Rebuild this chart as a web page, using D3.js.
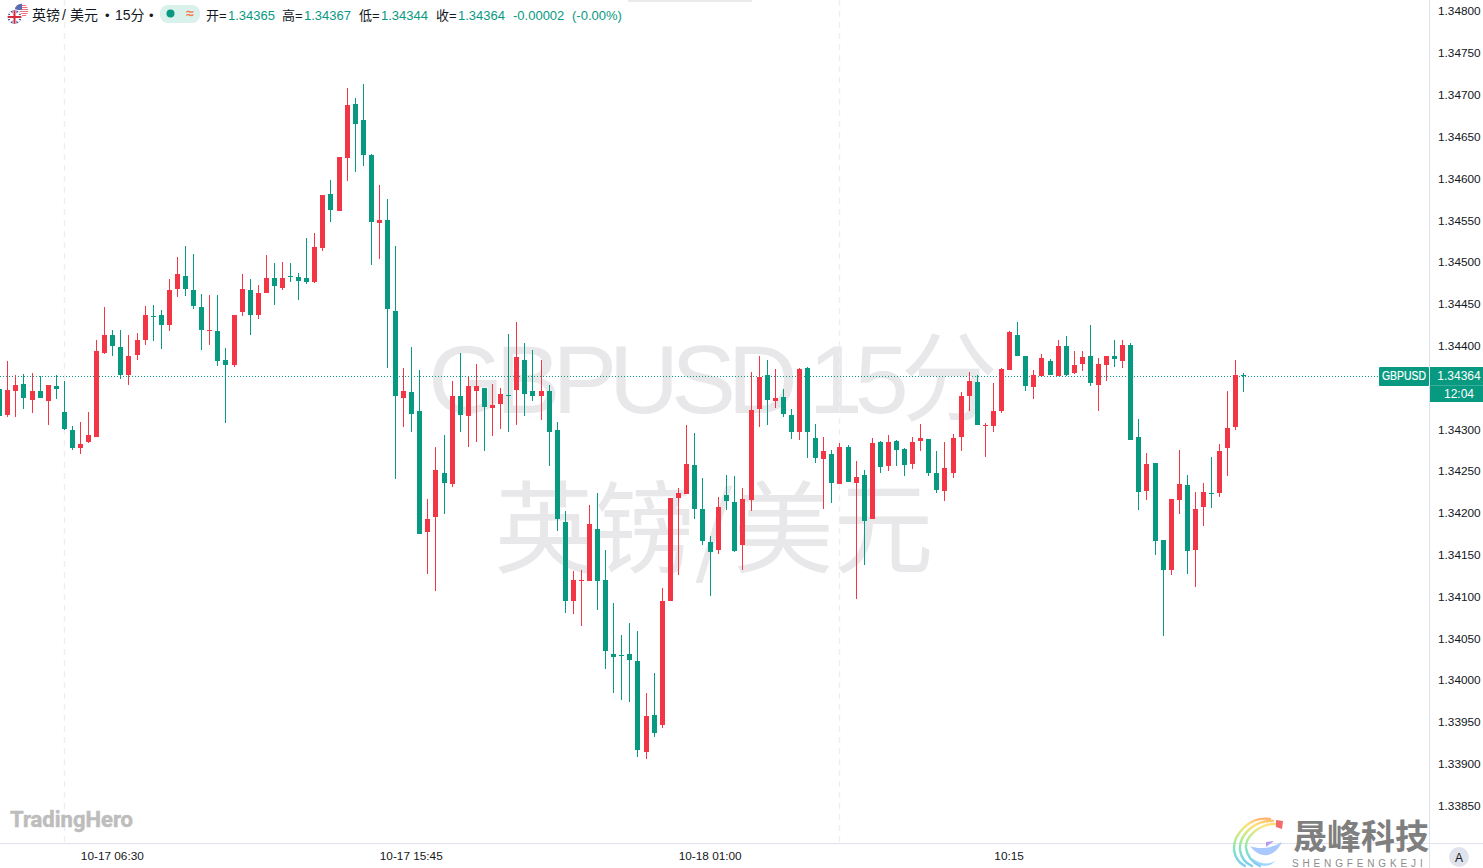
<!DOCTYPE html>
<html><head><meta charset="utf-8">
<script src="https://cdn.jsdelivr.net/npm/d3@7"></script>
<style>html,body{margin:0;padding:0;background:#fff;overflow:hidden}svg{display:block}
text{font-family:"Liberation Sans",Arial,"Noto Sans CJK SC",sans-serif}</style></head>
<body><svg id="c" width="1483" height="868"></svg>
<script>
const opens=[1.34348,1.34317,1.34346,1.34354,1.34335,1.34345,1.34334,1.34351,1.34321,1.34299,
1.34277,1.34285,1.34291,1.34391,1.34413,1.34398,1.34365,1.34389,1.34406,1.34435,
1.34437,1.34424,1.34467,1.34483,1.34466,1.34446,1.34417,1.34417,1.34383,1.34377,
1.34440,1.34466,1.34437,1.34463,1.34481,1.34469,1.34483,1.34482,1.34481,1.34476,
1.34516,1.34581,1.34561,1.34624,1.34689,1.34670,1.34628,1.34546,1.34550,1.34441,
1.34337,1.34344,1.34322,1.34177,1.34195,1.34248,1.34234,1.34340,1.34316,1.34346,
1.34349,1.34325,1.34330,1.34341,1.34347,1.34383,1.34345,1.34340,1.34346,1.34299,
1.34189,1.34095,1.34118,1.34118,1.34180,1.34119,1.34031,1.34030,1.34031,1.34023,
1.33914,1.33958,1.33946,1.34095,1.34218,1.34222,1.34257,1.34205,1.34165,1.34155,
1.34221,1.34213,1.34162,1.34215,1.34324,1.34365,1.34334,1.34338,1.34317,1.34296,
1.34373,1.34289,1.34264,1.34270,1.34234,1.34279,1.34235,1.34245,1.34192,1.34285,
1.34256,1.34286,1.34276,1.34258,1.34286,1.34288,1.34247,1.34226,1.34247,1.34291,
1.34340,1.34356,1.34304,1.34304,1.34322,1.34371,1.34413,1.34388,1.34350,1.34363,
1.34382,1.34363,1.34399,1.34367,1.34378,1.34387,1.34353,1.34377,1.34388,1.34381,
1.34401,1.34291,1.34226,1.34259,1.34167,1.34131,1.34215,1.34233,1.34155,1.34207,
1.34224,1.34224,1.34277,1.34303,1.34365];
const highs=[1.34365,1.34382,1.34365,1.34366,1.34367,1.34363,1.34353,1.34365,1.34357,1.34304,
1.34309,1.34321,1.34407,1.34446,1.34419,1.34418,1.34412,1.34415,1.34447,1.34449,
1.34442,1.34479,1.34506,1.34519,1.34510,1.34461,1.34460,1.34460,1.34397,1.34437,
1.34485,1.34479,1.34472,1.34508,1.34499,1.34500,1.34499,1.34487,1.34528,1.34534,
1.34580,1.34598,1.34626,1.34708,1.34696,1.34713,1.34629,1.34592,1.34575,1.34519,
1.34373,1.34398,1.34371,1.34217,1.34279,1.34293,1.34357,1.34391,1.34362,1.34378,
1.34349,1.34354,1.34349,1.34414,1.34428,1.34403,1.34395,1.34383,1.34353,1.34309,
1.34202,1.34130,1.34132,1.34209,1.34223,1.34156,1.34092,1.34054,1.34068,1.34059,
1.33984,1.34008,1.34110,1.34218,1.34229,1.34305,1.34295,1.34241,1.34172,1.34219,
1.34245,1.34244,1.34229,1.34368,1.34387,1.34383,1.34372,1.34348,1.34324,1.34373,
1.34374,1.34306,1.34291,1.34275,1.34283,1.34281,1.34262,1.34251,1.34289,1.34286,
1.34293,1.34287,1.34277,1.34291,1.34306,1.34288,1.34274,1.34285,1.34294,1.34344,
1.34368,1.34365,1.34307,1.34355,1.34373,1.34417,1.34428,1.34388,1.34371,1.34390,
1.34384,1.34406,1.34411,1.34394,1.34394,1.34425,1.34385,1.34388,1.34407,1.34406,
1.34403,1.34312,1.34271,1.34259,1.34167,1.34217,1.34275,1.34245,1.34225,1.34235,
1.34267,1.34282,1.34346,1.34383,1.34367];
const lows=[1.34313,1.34315,1.34315,1.34324,1.34319,1.34337,1.34305,1.34336,1.34299,1.34275,
1.34270,1.34283,1.34291,1.34390,1.34387,1.34360,1.34353,1.34383,1.34400,1.34405,
1.34396,1.34417,1.34458,1.34459,1.34444,1.34395,1.34400,1.34376,1.34307,1.34374,
1.34435,1.34413,1.34432,1.34463,1.34449,1.34466,1.34476,1.34454,1.34474,1.34475,
1.34513,1.34548,1.34561,1.34597,1.34607,1.34615,1.34496,1.34503,1.34373,1.34240,
1.34303,1.34296,1.34174,1.34127,1.34106,1.34198,1.34231,1.34296,1.34279,1.34285,
1.34274,1.34292,1.34300,1.34296,1.34305,1.34316,1.34334,1.34311,1.34256,1.34178,
1.34080,1.34079,1.34064,1.34118,1.34084,1.34013,1.33984,1.33976,1.33974,1.33908,
1.33905,1.33932,1.33942,1.34095,1.34126,1.34222,1.34193,1.34161,1.34101,1.34151,
1.34203,1.34153,1.34131,1.34202,1.34303,1.34305,1.34325,1.34315,1.34288,1.34287,
1.34266,1.34259,1.34204,1.34212,1.34234,1.34237,1.34097,1.34138,1.34192,1.34247,
1.34250,1.34256,1.34244,1.34252,1.34274,1.34244,1.34223,1.34214,1.34241,1.34274,
1.34322,1.34305,1.34267,1.34296,1.34319,1.34371,1.34387,1.34346,1.34336,1.34363,
1.34365,1.34363,1.34363,1.34366,1.34370,1.34351,1.34322,1.34357,1.34374,1.34373,
1.34287,1.34203,1.34215,1.34150,1.34052,1.34125,1.34198,1.34127,1.34111,1.34184,
1.34206,1.34219,1.34244,1.34299,1.34344];
const closes=[1.34316,1.34347,1.34353,1.34337,1.34346,1.34337,1.34353,1.34348,1.34300,1.34277,
1.34282,1.34293,1.34393,1.34412,1.34399,1.34365,1.34388,1.34406,1.34436,1.34434,
1.34425,1.34466,1.34486,1.34467,1.34447,1.34418,1.34418,1.34382,1.34377,1.34437,
1.34467,1.34437,1.34463,1.34481,1.34471,1.34481,1.34482,1.34477,1.34476,1.34518,
1.34580,1.34562,1.34626,1.34687,1.34665,1.34628,1.34548,1.34550,1.34444,1.34340,
1.34346,1.34318,1.34175,1.34192,1.34251,1.34235,1.34340,1.34317,1.34352,1.34352,
1.34326,1.34329,1.34342,1.34340,1.34386,1.34342,1.34340,1.34346,1.34296,1.34192,
1.34094,1.34119,1.34119,1.34186,1.34118,1.34035,1.34028,1.34029,1.34024,1.33916,
1.33957,1.33936,1.34095,1.34218,1.34224,1.34258,1.34204,1.34166,1.34153,1.34207,
1.34214,1.34154,1.34216,1.34323,1.34362,1.34335,1.34337,1.34318,1.34296,1.34372,
1.34296,1.34265,1.34274,1.34235,1.34279,1.34237,1.34243,1.34190,1.34283,1.34255,
1.34285,1.34275,1.34257,1.34285,1.34289,1.34247,1.34227,1.34253,1.34289,1.34339,
1.34357,1.34305,1.34305,1.34322,1.34372,1.34416,1.34388,1.34352,1.34365,1.34385,
1.34365,1.34399,1.34365,1.34377,1.34386,1.34355,1.34378,1.34387,1.34384,1.34400,
1.34287,1.34225,1.34258,1.34166,1.34131,1.34216,1.34234,1.34154,1.34205,1.34225,
1.34222,1.34274,1.34301,1.34365,1.34364];
const priceTicks=[1.348,1.3475,1.347,1.3465,1.346,1.3455,1.345,1.3445,1.344,1.3435,1.343,1.3425,1.342,1.3415,1.341,1.3405,1.34,1.3395,1.339,1.3385];
const hiddenTick=1.3435;
const timeTickIdx=[14,51,88,125];
const timeTickLabels=["10-17 06:30","10-17 15:45","10-18 01:00","10:15"];
const gridIdx=[8,104];
const lastPrice=1.34364;
const quote=[["开","1.34365"],["高","1.34367"],["低","1.34344"],["收","1.34364"]];
const changeText="-0.00002";const changePct="(-0.00%)";

const UP="#f23645",DOWN="#089981",INK="#131722",AXIS="#e0e0ee",W=1483,H=868;
const svg=d3.select("#c");
const x=d3.scaleLinear().domain([1,154]).range([7.8,1243.9]);
const y=d3.scaleLinear().domain([1.3385,1.348]).range([805.4,11]);
const px=i=>Math.floor(x(i));

// watermarks
const wm=svg.append("g").attr("fill","#e8e8ea");
wm.append("text").attr("x",709).attr("y",413).attr("text-anchor","middle").style("font-size","97px").style("letter-spacing","-8px").text("GBPUSD 15分");
wm.append("text").attr("x",714).attr("y",565).attr("text-anchor","middle").style("font-size","100px").style("font-family","'Noto Sans CJK SC'").style("font-weight","400").text("英镑/美元");

// grid
svg.append("g").selectAll("line").data(gridIdx).join("line")
 .attr("x1",d=>px(d)+.5).attr("x2",d=>px(d)+.5).attr("y1",0).attr("y2",843)
 .attr("stroke","#eeeef2").attr("stroke-width",1.4).attr("stroke-dasharray","6 5");

// last-price line
svg.append("line").attr("x1",0).attr("x2",1379).attr("y1",Math.round(y(lastPrice))+.5).attr("y2",Math.round(y(lastPrice))+.5)
 .attr("stroke",DOWN).attr("stroke-width",1).attr("stroke-dasharray","1 2");

// candles
const idx=d3.range(opens.length);
const col=i=>closes[i]>=opens[i]?UP:DOWN;
const g=svg.append("g").attr("shape-rendering","crispEdges");
g.selectAll(".w").data(idx).join("rect").attr("class","w")
 .attr("x",px).attr("width",1).attr("y",i=>Math.round(y(highs[i])))
 .attr("height",i=>Math.max(1,Math.round(y(lows[i]))-Math.round(y(highs[i])))).attr("fill",col);
g.selectAll(".b").data(idx).join("rect").attr("class","b")
 .attr("x",i=>px(i)-2).attr("width",5)
 .attr("y",i=>Math.round(y(Math.max(opens[i],closes[i]))))
 .attr("height",i=>Math.max(1,Math.round(y(Math.min(opens[i],closes[i])))-Math.round(y(Math.max(opens[i],closes[i])))))
 .attr("fill",col);

// logos under axes
svg.append("text").attr("x",10).attr("y",827).attr("fill","#bdbdbd").attr("stroke","#bdbdbd").attr("stroke-width",.5).attr("stroke-linejoin","round").style("font-family","Roboto,sans-serif").style("font-size","22px").style("font-weight","700").text("TradingHero");

// axis lines
svg.append("line").attr("x1",0).attr("x2",W).attr("y1",843.5).attr("y2",843.5).attr("stroke",AXIS);
svg.append("line").attr("x1",1429.5).attr("x2",1429.5).attr("y1",0).attr("y2",H).attr("stroke",AXIS);

// right axis
const ya=svg.append("g").attr("transform","translate(1429,0.2)").call(d3.axisRight(y).tickValues(priceTicks.filter(d=>d!==hiddenTick)).tickFormat(d3.format(".5f")).tickSize(0).tickPadding(9));
ya.select(".domain").remove();
ya.selectAll("text").attr("fill",INK).style("font-size","11.8px").style("font-family","'Liberation Sans',Arial");
// bottom axis
const xa=svg.append("g").attr("transform","translate(-1,844)").call(d3.axisBottom(x).tickValues(timeTickIdx).tickFormat((d,i)=>timeTickLabels[i]).tickSize(0).tickPadding(8));
xa.select(".domain").remove();
xa.selectAll("text").attr("fill",INK).style("font-size","11.8px").style("font-family","'Liberation Sans',Arial");

// price tags
const ly=Math.round(y(lastPrice));
svg.append("rect").attr("x",1379).attr("y",ly-9).attr("width",50).attr("height",19).attr("rx",1).attr("fill",DOWN);
svg.append("rect").attr("x",1430).attr("y",ly-9).attr("width",53).attr("height",18).attr("fill",DOWN);
svg.append("rect").attr("x",1430).attr("y",ly+9).attr("width",53).attr("height",17).attr("fill",DOWN);
svg.append("line").attr("x1",1430).attr("x2",1483).attr("y1",ly+9.5).attr("y2",ly+9.5).attr("stroke","#3aad98");
const tag=(tx,ty,t)=>svg.append("text").attr("x",tx).attr("y",ty).attr("fill","#fff").attr("text-anchor","middle").style("font-size","12px").text(t);
tag(1404,ly+4,"GBPUSD").attr("textLength",44).attr("lengthAdjust","spacingAndGlyphs").attr("stroke","#fff").attr("stroke-width",.2);
tag(1459,ly+4,d3.format(".5f")(lastPrice));tag(1459,ly+22,"12:04");

// header
const flag=svg.append("g");
const defs=svg.append("defs");
defs.append("clipPath").attr("id","us").append("circle").attr("cx",21.5).attr("cy",10.5).attr("r",6.8);
defs.append("clipPath").attr("id","uk").append("circle").attr("cx",14.5).attr("cy",17).attr("r",6.8);
const us=flag.append("g").attr("clip-path","url(#us)");
us.append("rect").attr("x",14).attr("y",3).attr("width",15).attr("height",15).attr("fill","#fff");
d3.range(0,8).forEach(k=>us.append("rect").attr("x",14).attr("y",3+k*2).attr("width",15).attr("height",1).attr("fill","#e8707f"));
us.append("rect").attr("x",14).attr("y",3).attr("width",8).attr("height",7).attr("fill","#5b6db0");
flag.append("circle").attr("cx",14.5).attr("cy",17).attr("r",7.8).attr("fill","#fff");
const uk=flag.append("g").attr("clip-path","url(#uk)");
uk.append("rect").attr("x",7).attr("y",10).attr("width",15).attr("height",14).attr("fill","#2a3f8f");
uk.append("path").attr("d","M7 10L22 24M22 10L7 24").attr("stroke","#fff").attr("stroke-width",2.6);
uk.append("path").attr("d","M14.5 10V24M7 17H22").attr("stroke","#fff").attr("stroke-width",4);
uk.append("path").attr("d","M14.5 10V24M7 17H22").attr("stroke","#d8283c").attr("stroke-width",2);
const hd=(tx,t,c,fs)=>svg.append("text").attr("x",tx).attr("y",19.5).attr("fill",c||INK).style("font-size",(fs||13)+"px").text(t);
hd(32,"英镑",INK,14);hd(62,"/",INK,14);hd(70,"美元",INK,14);hd(105,"•",INK,13);hd(115,"15分",INK,14);hd(149,"•",INK,13);
svg.append("rect").attr("x",160).attr("y",5).attr("width",40).attr("height",18).attr("rx",8).attr("fill","#d9f0eb");
svg.append("circle").attr("cx",170.5).attr("cy",13.5).attr("r",4).attr("fill",DOWN);
svg.append("text").attr("x",190).attr("y",18).attr("text-anchor","middle").attr("fill","#f7794a").style("font-size","14px").style("font-weight","700").text("≈");
[206,282,359,436].forEach((tx,i)=>{hd(tx,quote[i][0]+"=");hd(tx+22,quote[i][1],DOWN);});
hd(513,changeText,DOWN);hd(572,changePct,DOWN);

// top shadow artefact
svg.append("rect").attr("x",628).attr("y",0).attr("width",124).attr("height",2).attr("fill","#eaeaea");

// A button
svg.append("circle").attr("cx",1459).attr("cy",857).attr("r",10).attr("fill","#e0e3eb");
svg.append("text").attr("x",1459).attr("y",861.5).attr("text-anchor","middle").attr("fill",INK).style("font-size","12px").text("A");

// bottom-right brand
const lg=defs.append("linearGradient").attr("id","rb").attr("gradientUnits","userSpaceOnUse").attr("x1",0).attr("x2",0).attr("y1",818).attr("y2",868);
[[0,"#ffb070"],[.14,"#ffe27a"],[.4,"#b9ec8a"],[.65,"#7fe3c8"],[1,"#7cc8f8"]].forEach(s=>lg.append("stop").attr("offset",s[0]).attr("stop-color",s[1]));
const brand=svg.append("g").attr("fill","none").attr("stroke","url(#rb)").attr("stroke-width",2.4).attr("stroke-linecap","round");
["M1270 819C1250 816 1233 834 1234 850C1235 857 1239 863 1245 866",
 "M1273 821C1254 820 1239 835 1240 850C1241 857 1245 863 1252 866",
 "M1275 824C1259 824 1245 837 1246 848C1247 855 1252 862 1260 866"].forEach(d=>brand.append("path").attr("d",d));
svg.append("path").attr("d","M1282 842C1276 855 1262 862 1250 846C1260 850 1272 848 1282 842Z").attr("fill","#a9c9ff");
svg.append("path").attr("d","M1266 842L1274 841L1266 847Z").attr("fill","#b49cf0");
svg.append("path").attr("d","M1252 858C1262 866 1272 864 1276 860C1270 868 1258 868 1252 858Z").attr("fill","#9fd4ff");
svg.append("path").attr("d","M1276 820L1283 821L1282 829L1276 827Z").attr("fill","#f26a6a");
svg.append("text").attr("x",1293).attr("y",848.5).attr("fill","#7f7f7f").style("font-size","34px").style("font-weight","700").style("font-family","'Noto Sans CJK SC'").text("晟峰科技");
svg.append("text").attr("x",1292).attr("y",867).attr("fill","#8c8c8c").style("font-size","10px").style("letter-spacing","3.85px").text("SHENGFENGKEJI");
</script></body></html>
